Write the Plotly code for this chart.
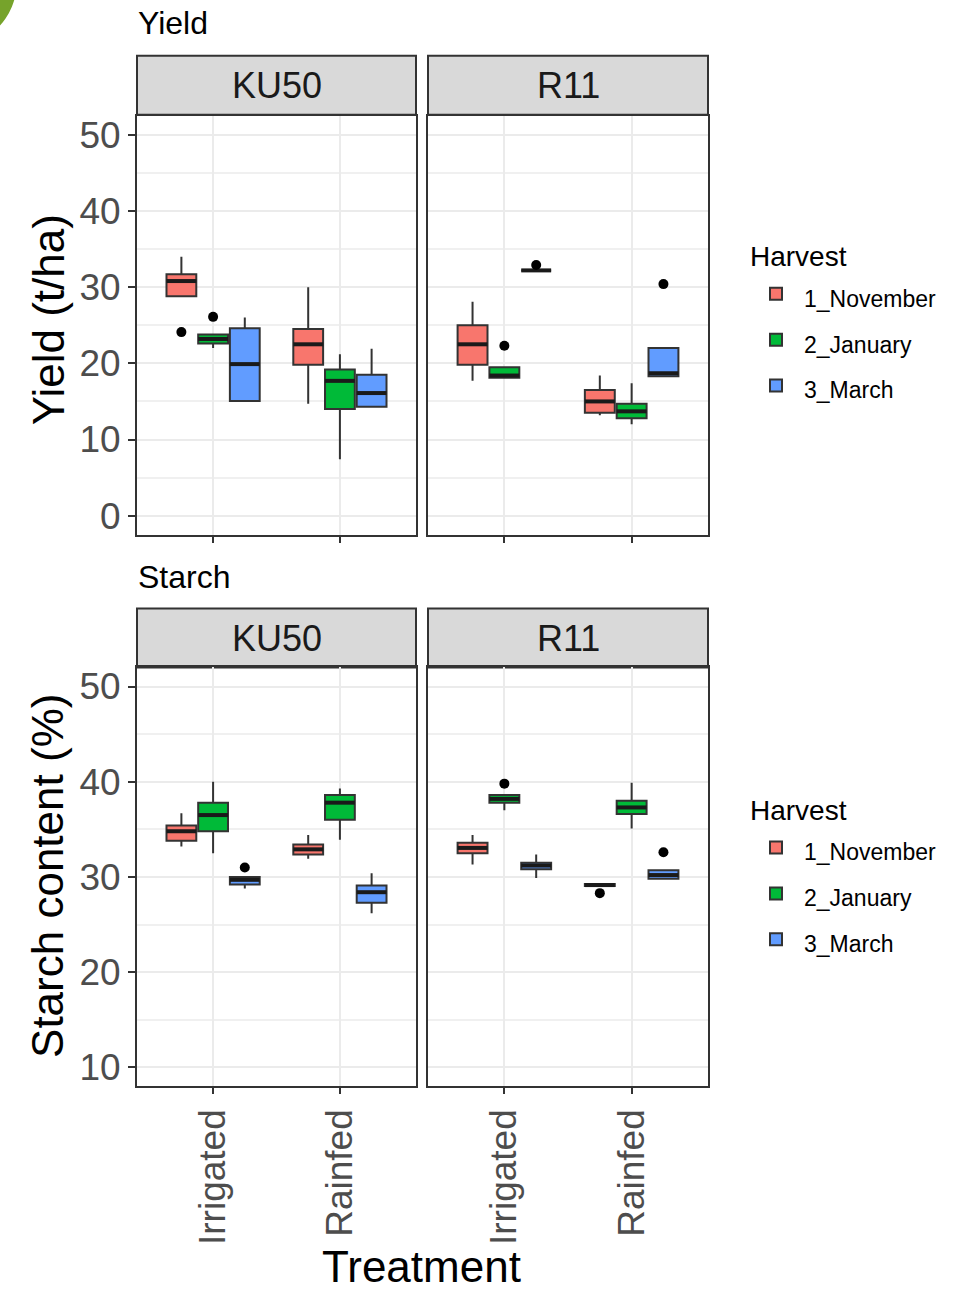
import plotly.graph_objects as go

# ---------------- data ----------------
varieties = ["KU50", "R11"]
treatments = ["Irrigated", "Rainfed"]
harvests = ["1_November", "2_January", "3_March"]

# nested as [variety][treatment][harvest]
yield_lower = [[[28.8, 22.0, 15.05], [14.7, 7.4, 14.3]],
               [[17.7, 18.1, 32.2], [13.2, 12.0, 18.3]]]
yield_q1 = [[[28.8, 22.6, 15.05], [19.8, 14.0, 14.3]],
            [[19.8, 18.1, 32.2], [13.5, 12.8, 18.3]]]
yield_median = [[[30.8, 23.2, 19.9], [22.5, 17.7, 16.1]],
                [[22.5, 18.4, 32.2], [15.0, 13.7, 18.7]]]
yield_q3 = [[[31.7, 23.8, 24.6], [24.5, 19.2, 18.5]],
            [[25.0, 19.5, 32.2], [16.5, 14.7, 22.0]]]
yield_upper = [[[34.0, 23.8, 26.0], [30.0, 21.2, 21.9]],
               [[28.1, 19.5, 32.2], [18.4, 17.4, 22.0]]]
yield_outliers = [("KU50", "Irrigated", "1_November", 24.1),
                  ("KU50", "Irrigated", "2_January", 26.1),
                  ("R11", "Irrigated", "2_January", 22.3),
                  ("R11", "Irrigated", "3_March", 32.9),
                  ("R11", "Rainfed", "3_March", 30.4)]

starch_lower = [[[33.2, 32.5, 28.8], [31.9, 33.9, 26.2]],
                [[31.3, 37.0, 29.9], [29.05, 35.1, 29.8]]]
starch_q1 = [[[33.8, 34.8, 29.2], [32.35, 36.0, 27.3]],
             [[32.5, 37.8, 30.8], [29.05, 36.6, 29.8]]]
starch_median = [[[34.8, 36.5, 29.7], [32.9, 37.8, 28.4]],
                 [[33.05, 38.2, 31.2], [29.15, 37.3, 30.2]]]
starch_q3 = [[[35.4, 37.8, 30.0], [33.4, 38.6, 29.1]],
             [[33.6, 38.6, 31.5], [29.25, 38.0, 30.7]]]
starch_upper = [[[36.7, 40.0, 30.0], [34.4, 39.3, 30.4]],
                [[34.4, 38.6, 32.35], [29.25, 39.9, 30.7]]]
starch_outliers = [("KU50", "Irrigated", "3_March", 31.0),
                   ("R11", "Irrigated", "2_January", 39.8),
                   ("R11", "Rainfed", "1_November", 28.3),
                   ("R11", "Rainfed", "3_March", 32.6)]

# ---------------- style ----------------
colors = ["#F8766D", "#00BA38", "#619CFF"]
dodge = [-0.25, 0.0, 0.25]
BOX_W = 0.235
FONT = "Liberation Sans, Arial, sans-serif"
W, H = 966, 1294

def px_x(p):
    return p / W

def px_y(p):
    return 1 - p / H

metrics = [
    dict(name="Yield", lower=yield_lower, q1=yield_q1, med=yield_median, q3=yield_q3,
         upper=yield_upper, outliers=yield_outliers, legend="legend"),
    dict(name="Starch", lower=starch_lower, q1=starch_q1, med=starch_median, q3=starch_q3,
         upper=starch_upper, outliers=starch_outliers, legend="legend2"),
]

fig = go.Figure()

for m, md in enumerate(metrics):
    for v, var in enumerate(varieties):
        ax = 1 + v + 2 * m
        xref = "x" if ax == 1 else f"x{ax}"
        yref = "y" if ax == 1 else f"y{ax}"
        for h, hv in enumerate(harvests):
            pos = [t + 1 + dodge[h] for t in range(len(treatments))]
            fig.add_trace(go.Box(
                x=pos,
                q1=[md["q1"][v][t][h] for t in range(len(treatments))],
                median=[md["med"][v][t][h] for t in range(len(treatments))],
                q3=[md["q3"][v][t][h] for t in range(len(treatments))],
                lowerfence=[md["lower"][v][t][h] for t in range(len(treatments))],
                upperfence=[md["upper"][v][t][h] for t in range(len(treatments))],
                width=BOX_W, whiskerwidth=0,
                fillcolor=colors[h],
                line=dict(color="#333333", width=2),
                name=f"<span style='font-size:23px'>{hv}</span>",
                legendgroup=f"{md['name']}{hv}",
                legend=md["legend"],
                showlegend=(v == 0),
                xaxis=xref, yaxis=yref,
                hoverinfo="skip",
            ))
            # thick median segments
            mx, my = [], []
            for t in range(len(treatments)):
                p = t + 1 + dodge[h]
                mv = md["med"][v][t][h]
                mx += [p - BOX_W / 2, p + BOX_W / 2, None]
                my += [mv, mv, None]
            fig.add_trace(go.Scatter(x=mx, y=my, mode="lines",
                                     line=dict(color="#1a1a1a", width=4),
                                     showlegend=False, hoverinfo="skip",
                                     xaxis=xref, yaxis=yref))
        # outliers
        ox, oy = [], []
        for (ov, ot, oh, val) in md["outliers"]:
            if ov == var:
                ox.append(treatments.index(ot) + 1 + dodge[harvests.index(oh)])
                oy.append(val)
        if ox:
            fig.add_trace(go.Scatter(x=ox, y=oy, mode="markers",
                                     marker=dict(color="black", size=10),
                                     showlegend=False, hoverinfo="skip",
                                     xaxis=xref, yaxis=yref))

# ---------------- axes ----------------
xdom_left = [px_x(137), px_x(416)]
xdom_right = [px_x(428), px_x(708)]
ydom_top = [px_y(535), px_y(115)]
ydom_bot = [px_y(1088), px_y(668)]

axis_common = dict(showline=True, mirror=True, linecolor="#333333", linewidth=2,
                   showgrid=True, gridcolor="#EBEBEB", gridwidth=2, zeroline=False,
                   ticks="outside", ticklen=7, tickwidth=2, tickcolor="#333333",
                   tickfont=dict(family=FONT, size=37, color="#4D4D4D"))

def xaxis(dom, anchor, labels):
    d = dict(axis_common)
    d.update(domain=dom, anchor=anchor, range=[0.4, 2.6],
             tickvals=[1, 2], ticktext=treatments, showticklabels=labels,
             tickangle=-90, ticklen=6)
    return d

def yaxis(dom, anchor, rng, labels, tvals):
    d = dict(axis_common)
    d.update(domain=dom, anchor=anchor, range=rng, tickvals=tvals,
             showticklabels=labels, ticks="outside" if labels else "",
             minor=dict(tickvals=[t + 5 for t in tvals[:-1]], showgrid=True,
                        gridcolor="#F0F0F0", gridwidth=1.5, ticks=""))
    return d

ytop_ticks = [0, 10, 20, 30, 40, 50]
ybot_ticks = [10, 20, 30, 40, 50]

fig.update_layout(
    xaxis=xaxis(xdom_left, "y", False),
    xaxis2=xaxis(xdom_right, "y2", False),
    xaxis3=xaxis(xdom_left, "y3", True),
    xaxis4=xaxis(xdom_right, "y4", True),
    yaxis=yaxis(ydom_top, "x", [-2.5, 52.5], True, ytop_ticks),
    yaxis2=yaxis(ydom_top, "x2", [-2.5, 52.5], False, ytop_ticks),
    yaxis3=yaxis(ydom_bot, "x3", [8, 52], True, ybot_ticks),
    yaxis4=yaxis(ydom_bot, "x4", [8, 52], False, ybot_ticks),
)

# ---------------- strips, titles ----------------
shapes = []
annotations = []
strips = [(55, 114), (609, 668)]
for (s0, s1) in strips:
    for dom, lab in [(xdom_left, varieties[0]), (xdom_right, varieties[1])]:
        shapes.append(dict(type="rect", xref="paper", yref="paper",
                           x0=dom[0], x1=dom[1], y0=px_y(s1), y1=px_y(s0),
                           fillcolor="#D9D9D9", line=dict(color="#333333", width=2),
                           layer="below"))
        annotations.append(dict(text=lab, xref="paper", yref="paper",
                                x=(dom[0] + dom[1]) / 2, y=px_y((s0 + s1) / 2),
                                showarrow=False, xanchor="center", yanchor="middle",
                                font=dict(family=FONT, size=36, color="#1A1A1A")))

# decorative corner
shapes.append(dict(type="circle", xref="paper", yref="paper",
                   x0=px_x(-117), x1=px_x(17), y0=px_y(47), y1=px_y(-87),
                   fillcolor="#76A32B", line=dict(width=0)))

annotations += [
    dict(text="Yield", xref="paper", yref="paper", x=px_x(136), y=px_y(22),
         xanchor="left", yanchor="middle", showarrow=False,
         font=dict(family=FONT, size=32, color="black")),
    dict(text="Starch", xref="paper", yref="paper", x=px_x(136), y=px_y(577),
         xanchor="left", yanchor="middle", showarrow=False,
         font=dict(family=FONT, size=32, color="black")),
    dict(text="Yield (t/ha)", xref="paper", yref="paper", x=px_x(48), y=px_y(320),
         xanchor="center", yanchor="middle", textangle=-90, showarrow=False,
         font=dict(family=FONT, size=44, color="black")),
    dict(text="Starch content (%)", xref="paper", yref="paper", x=px_x(48), y=px_y(877),
         xanchor="center", yanchor="middle", textangle=-90, showarrow=False,
         font=dict(family=FONT, size=44, color="black")),
    dict(text="Treatment", xref="paper", yref="paper", x=px_x(421), y=px_y(1268),
         xanchor="center", yanchor="middle", showarrow=False,
         font=dict(family=FONT, size=44, color="black")),
]

legend_common = dict(xanchor="left", yanchor="top", bgcolor="rgba(0,0,0,0)",
                     font=dict(family=FONT, size=33, color="black"),
                     title=dict(font=dict(family=FONT, size=28, color="black")),
                     tracegroupgap=0, itemwidth=46)

fig.update_layout(
    width=W, height=H, margin=dict(l=0, r=0, t=0, b=0),
    paper_bgcolor="white", plot_bgcolor="white",
    shapes=shapes, annotations=annotations,
    legend=dict(legend_common, x=px_x(748), y=px_y(229), title_text="Harvest"),
    legend2=dict(legend_common, x=px_x(748), y=px_y(784), title_text="Harvest"),
    boxmode="overlay",
)

fig.write_html("out.html")
